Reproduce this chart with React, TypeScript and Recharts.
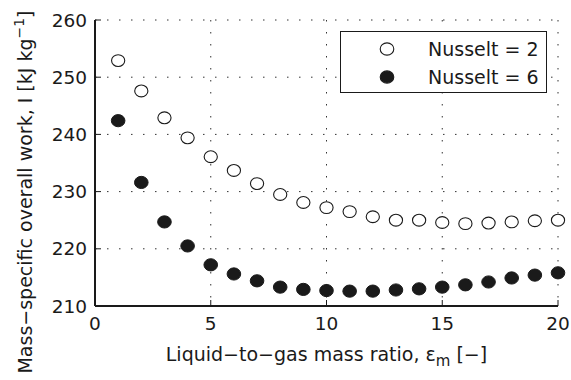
import { ScatterChart, Scatter, XAxis, YAxis, CartesianGrid, Legend } from "recharts";

const massRatio = [1, 2, 3, 4, 5, 6, 7, 8, 9, 10, 11, 12, 13, 14, 15, 16, 17, 18, 19, 20];
const nusselt2 = [252.9, 247.6, 242.9, 239.4, 236.1, 233.7, 231.4, 229.5, 228.1, 227.2, 226.5, 225.6, 225.0, 225.0, 224.6, 224.4, 224.5, 224.7, 224.9, 225.0];
const nusselt6 = [242.4, 231.6, 224.7, 220.5, 217.2, 215.6, 214.4, 213.3, 212.9, 212.7, 212.6, 212.6, 212.8, 213.0, 213.3, 213.7, 214.2, 214.9, 215.4, 215.8];
const xTicks = [0, 5, 10, 15, 20];
const yTicks = [210, 220, 230, 240, 250, 260];

const seriesA = massRatio.map((x, i) => ({ x, y: nusselt2[i] }));
const seriesB = massRatio.map((x, i) => ({ x, y: nusselt6[i] }));

const FONT = "'DejaVu Sans', sans-serif";
const INK = "#1a1a1a";

const openDot = (p: any) => <ellipse cx={p.cx} cy={p.cy} rx={6.6} ry={5.9} fill="#fff" stroke={INK} strokeWidth={1.1} />;
const fullDot = (p: any) => <ellipse cx={p.cx} cy={p.cy} rx={6.8} ry={6.1} fill={INK} stroke={INK} strokeWidth={1} />;

function LegendBox() {
    const rows = [
        { label: "Nusselt = 2", fill: "#fff" },
        { label: "Nusselt = 6", fill: INK },
    ];
    return (
        <div style={{ width: 207, height: 62, boxSizing: "border-box", border: `1.5px solid ${INK}`, background: "#fff", position: "relative", fontFamily: FONT }}>
            {rows.map((r, i) => (
                <div key={r.label} style={{ position: "absolute", left: 0, top: 3 + i * 28, height: 28, display: "flex", alignItems: "center" }}>
                    <svg width={87} height={28}>
                        <ellipse cx={46} cy={14} rx={6.8} ry={6.1} fill={r.fill} stroke={INK} strokeWidth={1.1} />
                    </svg>
                    <span style={{ fontSize: 19, color: INK, whiteSpace: "nowrap" }}>{r.label}</span>
                </div>
            ))}
        </div>
    );
}

export default function App() {
    const tick = { fontSize: 18.5, fill: INK, fontFamily: FONT };
    return (
        <div style={{ position: "absolute", left: 0, top: 0, width: 571, height: 380, background: "#fff" }}>
            <ScatterChart width={571} height={380} margin={{ top: 20, right: 13, bottom: 30, left: 40 }}>
                <CartesianGrid stroke="#333" strokeDasharray="1.5 10.5" strokeWidth={1} />
                <XAxis type="number" dataKey="x" domain={[0, 20]} ticks={xTicks} height={44}
                    axisLine={{ stroke: INK, strokeWidth: 2 }} tickLine={{ stroke: INK, strokeWidth: 1 }}
                    tickSize={-6} tickMargin={17} tick={tick}
                    label={{
                        content: (props: any) => {
                            const vb = props.viewBox;
                            return (
                                <text x={vb.x + vb.width / 2} y={361} textAnchor="middle" fontSize={19} fill={INK} fontFamily={FONT}>
                                    Liquid−to−gas mass ratio, ε<tspan dy={5} fontSize={15}>m</tspan><tspan dy={-5}> [−]</tspan>
                                </text>
                            );
                        },
                    }} />
                <XAxis xAxisId="top" orientation="top" type="number" domain={[0, 20]} ticks={xTicks} height={0}
                    axisLine={{ stroke: INK, strokeWidth: 2 }} tickLine={{ stroke: INK, strokeWidth: 1 }}
                    tickSize={-6} tick={false} />
                <YAxis type="number" dataKey="y" domain={[210, 260]} ticks={yTicks} width={55}
                    axisLine={{ stroke: INK, strokeWidth: 2 }} tickLine={{ stroke: INK, strokeWidth: 1 }}
                    tickSize={-6} tickMargin={14} tick={tick}
                    label={{
                        content: () => (
                            <text transform="rotate(-90, 32, 192)" x={32} y={192} textAnchor="middle" fontSize={19} fill={INK} fontFamily={FONT}>
                                Mass−specific overall work, I [kJ kg<tspan dy={-8} fontSize={14}>−1</tspan><tspan dy={8}>]</tspan>
                            </text>
                        ),
                    }} />
                <YAxis yAxisId="right" orientation="right" type="number" domain={[210, 260]} ticks={yTicks} width={0}
                    axisLine={{ stroke: INK, strokeWidth: 2 }} tickLine={{ stroke: INK, strokeWidth: 1 }}
                    tickSize={-6} tick={false} />
                <Legend layout="horizontal" align="center" verticalAlign="middle" content={() => <LegendBox />}
                    wrapperStyle={{ position: "absolute", left: 340, top: 31, width: 207 }} />
                <Scatter name="Nusselt = 2" data={seriesA} shape={openDot} isAnimationActive={false} />
                <Scatter name="Nusselt = 6" data={seriesB} shape={fullDot} isAnimationActive={false} />
            </ScatterChart>
        </div>
    );
}
